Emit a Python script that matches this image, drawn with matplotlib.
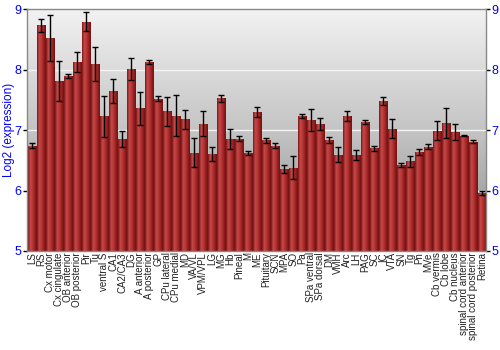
import numpy as np
import matplotlib.pyplot as plt
from matplotlib.colors import LinearSegmentedColormap

plt.rcParams["font.family"] = ["Liberation Sans", "DejaVu Sans"]

regions = ["LS", "RS", "Cx motor", "Cx cingulate", "OB anterior", "OB posterior",
           "Pir", "Tu", "ventral S", "CA1", "CA2/CA3", "DG", "A anterior",
           "A posterior", "GP", "CPu lateral", "CPu medial", "MD", "VA/VL",
           "VPM/VPL", "LG", "MG", "Hb", "Pineal", "M", "ME", "Pituitary", "SCN",
           "MPA", "SO", "Pa", "SPa ventral", "SPa dorsal", "DM", "VMH", "Arc",
           "LH", "PAG", "SC", "IC", "VTA", "SN", "Tg", "Pn", "MVe", "Cb vermis",
           "Cb lobe", "Cb nucleus", "spinal cord anterior", "spinal cord posterior",
           "Retina"]
expr = [6.745, 8.735, 8.52, 7.81, 7.90, 8.13, 8.80, 8.10, 7.23, 7.645, 6.855,
        8.015, 7.36, 8.13, 7.52, 7.31, 7.24, 7.18, 6.63, 7.11, 6.605, 7.53,
        6.855, 6.86, 6.62, 7.305, 6.83, 6.745, 6.36, 6.38, 7.24, 7.175, 7.11,
        6.83, 6.595, 7.24, 6.59, 7.13, 6.70, 7.48, 7.025, 6.42, 6.485, 6.635,
        6.73, 6.995, 7.12, 6.97, 6.91, 6.81, 5.96]
err = [0.04, 0.11, 0.38, 0.33, 0.03, 0.17, 0.15, 0.28, 0.34, 0.2, 0.13, 0.18,
       0.27, 0.04, 0.04, 0.24, 0.34, 0.16, 0.24, 0.2, 0.12, 0.06, 0.16, 0.045,
       0.035, 0.08, 0.04, 0.045, 0.07, 0.185, 0.035, 0.18, 0.1, 0.05, 0.12,
       0.08, 0.09, 0.035, 0.04, 0.065, 0.16, 0.035, 0.09, 0.05, 0.045, 0.15,
       0.245, 0.14, 0.005, 0.03, 0.035]

fig = plt.figure(figsize=(5, 3.5), dpi=100)
ax = fig.add_axes([0.054, 0.283, 0.918, 0.69])
ymin, ymax = 5, 9
xmin, xmax = -0.6, 50.4
ax.set_xlim(xmin, xmax)
ax.set_ylim(ymin, ymax)

# background gradient, light on top, darker at the bottom
bg = LinearSegmentedColormap.from_list("bg", ["#8c8c8c", "#c4c4c4", "#f2f2f2"])
grad = np.linspace(0, 1, 256).reshape(-1, 1)
ax.imshow(grad, cmap=bg, aspect="auto", origin="lower",
          extent=[xmin, xmax, ymin, ymax], zorder=0)
for g in [6, 7, 8]:
    ax.axhline(g, color="#f4f4f4", lw=1, zorder=1)

x = np.arange(len(regions))
bars = ax.bar(x, np.array(expr) - ymin, bottom=ymin, width=0.9,
              color="none", edgecolor="none", zorder=2)

# horizontal shading inside each bar
barcm = LinearSegmentedColormap.from_list(
    "bar", ["#7a1414", "#c44a4a", "#b83636", "#9a2222", "#6e1010"])
hgrad = np.linspace(0, 1, 64).reshape(1, -1)
for b in bars:
    x0, w = b.get_x(), b.get_width()
    im = ax.imshow(hgrad, cmap=barcm, aspect="auto",
                   extent=[x0, x0 + w, ymin, b.get_y() + b.get_height()],
                   zorder=2)
    im.set_clip_path(b)

ax.errorbar(x, expr, yerr=err, fmt="none", ecolor="black", elinewidth=1,
            capsize=2, capthick=1, zorder=3)

ax.set_xticks(x)
ax.set_xticklabels(regions, rotation=90, fontsize=7, color="#222222")
ax.tick_params(axis="x", length=0, pad=1)

ax.set_yticks([5, 6, 7, 8, 9])
ax.tick_params(axis="y", colors="black", labelcolor="blue", labelsize=9,
               length=3, width=1, right=True, labelright=True, pad=1)
ax.set_ylabel("Log2 (expression)", color="blue", fontsize=8.5)
ax.yaxis.set_label_coords(-0.027, 0.5)

for s in ax.spines.values():
    s.set_color("#888888")
    s.set_linewidth(1)

fig.savefig("out.png", dpi=100)
